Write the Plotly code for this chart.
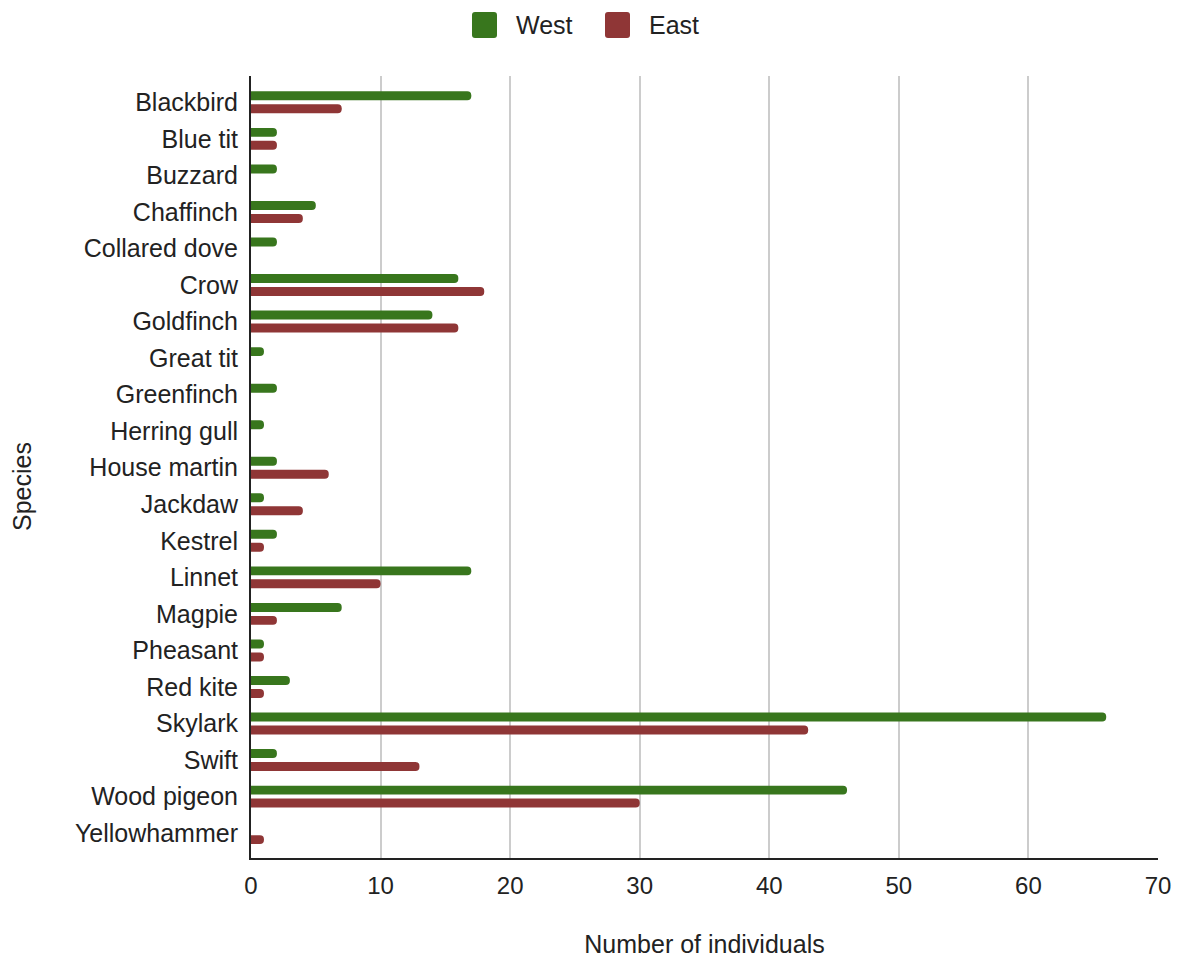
import plotly.graph_objects as go

# Bird survey counts by species
species = [
    "Blackbird", "Blue tit", "Buzzard", "Chaffinch", "Collared dove", "Crow",
    "Goldfinch", "Great tit", "Greenfinch", "Herring gull", "House martin",
    "Jackdaw", "Kestrel", "Linnet", "Magpie", "Pheasant", "Red kite",
    "Skylark", "Swift", "Wood pigeon", "Yellowhammer",
]
west = [17, 2, 2, 5, 2, 16, 14, 1, 2, 1, 2, 1, 2, 17, 7, 1, 3, 66, 2, 46, 0]
east = [7, 2, 0, 4, 0, 18, 16, 0, 0, 0, 6, 4, 1, 10, 2, 1, 1, 43, 13, 30, 1]
x_ticks = [0, 10, 20, 30, 40, 50, 60, 70]

GREEN = "#38761d"
RED = "#8f3636"
TEXT = "#222222"
FONT = "Liberation Sans, Arial, sans-serif"

W, H = 1183, 960
ML, MR, MT, MB = 251, 25, 76, 102
PW, PH = W - ML - MR, H - MT - MB

fig = go.Figure()
fig.add_trace(go.Bar(y=species, x=west, name="West", orientation="h",
                     marker=dict(color=GREEN, cornerradius=4.5, line=dict(width=0)),
                     showlegend=False))
fig.add_trace(go.Bar(y=species, x=east, name="East", orientation="h",
                     marker=dict(color=RED, cornerradius=4.5, line=dict(width=0)),
                     showlegend=False))


def px_to_paper(px, py):
    return (px - ML) / PW, (H - MB - py) / PH


def rounded_rect(x0, y0, x1, y1, r):
    def p(x, y):
        u, v = px_to_paper(x, y)
        return f"{u:.5f},{v:.5f}"
    return (f"M{p(x0 + r, y0)} L{p(x1 - r, y0)} Q{p(x1, y0)} {p(x1, y0 + r)} "
            f"L{p(x1, y1 - r)} Q{p(x1, y1)} {p(x1 - r, y1)} "
            f"L{p(x0 + r, y1)} Q{p(x0, y1)} {p(x0, y1 - r)} "
            f"L{p(x0, y0 + r)} Q{p(x0, y0)} {p(x0 + r, y0)} Z")


# Legend drawn at the top centre
legend_items = [("West", GREEN, 472), ("East", RED, 605)]
shapes = []
annotations = []
for label, color, lx in legend_items:
    shapes.append(dict(type="path", xref="paper", yref="paper",
                       path=rounded_rect(lx, 12, lx + 25, 38, 3),
                       fillcolor=color, line=dict(width=0), layer="above"))
    ax, ay = px_to_paper(lx + 42, 25)
    annotations.append(dict(x=ax, y=ay, xref="paper", yref="paper",
                            text=label, showarrow=False, xanchor="left",
                            yanchor="middle",
                            font=dict(family=FONT, size=25, color=TEXT)))

# Vertical axis title
tx, ty = px_to_paper(22, 487)
annotations.append(dict(x=tx, y=ty, xref="paper", yref="paper", text="Species",
                        showarrow=False, textangle=-90, xanchor="center",
                        yanchor="middle",
                        font=dict(family=FONT, size=25, color=TEXT)))

fig.update_layout(
    width=W, height=H,
    margin=dict(l=ML, r=MR, t=MT, b=MB, autoexpand=False),
    paper_bgcolor="white", plot_bgcolor="white",
    barmode="group", bargap=0.29, bargroupgap=0.31,
    font=dict(family=FONT, size=25, color=TEXT),
    shapes=shapes, annotations=annotations,
    xaxis=dict(
        range=[0, 70], tickvals=x_ticks, ticktext=[str(v) for v in x_ticks],
        showgrid=True, gridcolor="#cccccc", gridwidth=2,
        showline=True, linecolor="#222222", linewidth=2,
        zeroline=False, ticks="", ticklabelstandoff=5,
        tickfont=dict(family=FONT, size=24, color=TEXT),
        title=dict(text="Number of individuals", standoff=38,
                   font=dict(family=FONT, size=25, color=TEXT)),
        automargin=False,
    ),
    yaxis=dict(
        type="category", range=[20.68, -0.72],
        showgrid=False, showline=True, linecolor="#222222", linewidth=2,
        ticks="", ticklabelstandoff=6,
        tickfont=dict(family=FONT, size=25, color=TEXT),
        automargin=False,
    ),
)

fig.write_html("out.html")
